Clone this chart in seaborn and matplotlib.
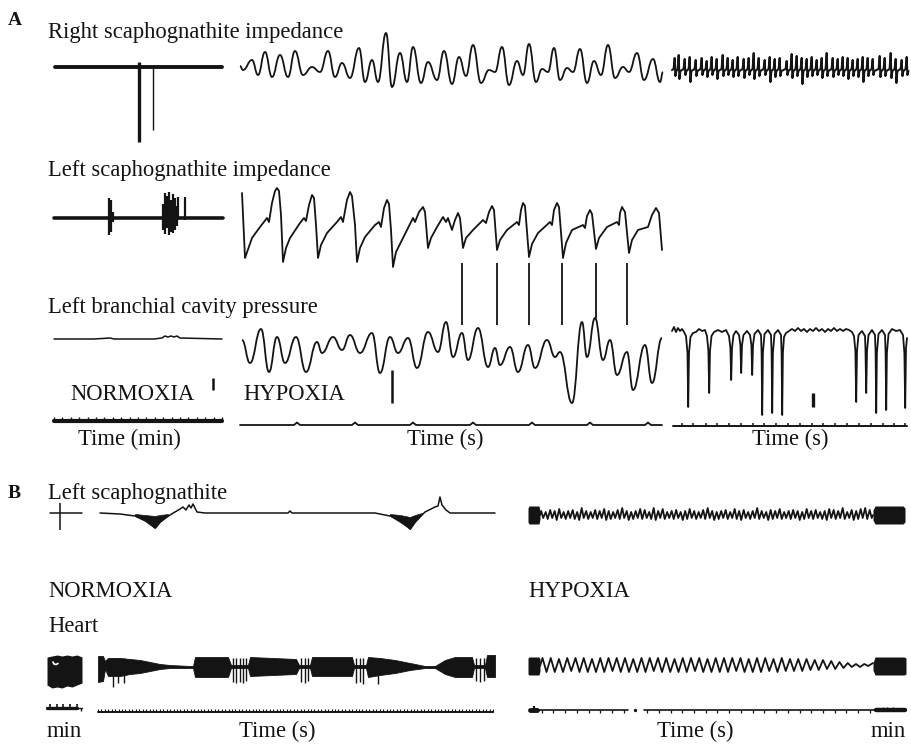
import numpy as np
import matplotlib
matplotlib.use('Agg')
import matplotlib.pyplot as plt
import seaborn as sns
from matplotlib.path import Path
from matplotlib.patches import PathPatch

sns.set_style('white')
plt.rcParams['font.family'] = ['Liberation Serif', 'DejaVu Serif']

INK = '#141414'
W, H = 912, 744

# ---------------- data (t = time along trace, a = deflection, up positive) ----------------
# A, right scaphognathite impedance, normoxia: flat trace with two downward spikes
a_nor_r_spike_t = [84, 98]
a_nor_r_spike_depth = [-75, -63]

# A, right scaphognathite impedance, hypoxia: extrema of the slow wave
a_hyp_r_t = [0, 3, 12, 18, 25, 32, 40, 48, 55, 63, 72, 80, 88, 95, 102, 110, 119, 125, 132, 138, 146,
             152, 160, 167, 173, 181, 188, 197, 204, 212, 219, 226, 233, 241, 249, 255, 262, 269, 277,
             283, 289, 296, 302, 308, 314, 320, 327, 333, 340, 347, 354, 361, 368, 375, 383, 389, 397,
             404, 413, 420, 423]
a_hyp_r_a = [2, -2, 8, -7, 16, -9, 13, -9, 17, -7, 1, -4, 17, -9, 5, -10, 20, -14, 8, -14, 35,
             -19, 15, -14, 21, -15, 6, -12, 17, -16, 11, -8, 23, -15, -2, -4, 21, -17, 7,
             -7, 24, -14, -1, -4, 20, -12, 0, -4, 19, -15, 7, -7, 23, -10, 1, -4, 15,
             -12, 9, -14, -4]

# A, right scaphognathite impedance, late hypoxia: fast beats
a_fast_t = [3, 7, 13, 18, 24, 30, 35, 40, 45, 51, 56, 61, 66, 72, 77, 82, 87, 93, 98, 103, 108, 115,
            120, 125, 130, 135, 140, 145, 150, 155, 161, 166, 171, 176, 181, 186, 191, 196, 201, 208,
            213, 219, 224, 230, 235]
a_fast_up = [12, 15, 11, 13, 10, 12, 9, 13, 11, 15, 12, 10, 13, 11, 12, 17, 12, 10, 13, 11, 12, 9,
             16, 14, 12, 11, 13, 10, 12, 17, 12, 11, 13, 12, 10, 11, 13, 12, 11, 14, 12, 17, 11, 10, 13]
a_fast_dn = [-6, -9, -5, -12, -6, -5, -7, -5, -9, -6, -5, -7, -6, -8, -5, -9, -6, -5, -12, -7, -6, -5,
             -8, -6, -14, -7, -6, -5, -8, -6, -7, -5, -6, -9, -6, -7, -12, -6, -5, -7, -6, -8, -13, -6, -5]

# A, left scaphognathite impedance, normoxia: two bursts
a_nor_l_burst_t = [55, 57, 59, 109, 111, 113, 115, 117, 119, 121, 123, 124, 131]
a_nor_l_burst_up = [20, 18, 6, 14, 25, 22, 26, 18, 24, 20, 12, 21, 21]
a_nor_l_burst_dn = [-17, -14, -4, -12, -16, -10, -17, -14, -15, -12, -8, -2, -2]

# A, left scaphognathite impedance, hypoxia
a_hyp_l_t = [2, 5, 12, 20, 27, 29, 32, 35, 37, 39, 41, 43, 46, 50, 60, 64, 66, 69, 72, 74, 76, 78,
             81, 87, 97, 101, 103, 107, 110, 112, 115, 117, 120, 125, 135, 139, 141, 144, 147, 149, 151, 153,
             156, 162, 173, 175, 179, 183, 185, 188, 191, 197, 203, 206, 208, 212, 215, 218, 220, 223,
             226, 233, 243, 246, 249, 252, 254, 257, 260, 267, 277, 279, 281, 283, 285, 289,
             292, 298, 310, 312, 314, 317, 319, 323, 326, 332, 343, 345, 347, 350, 352, 356,
             359, 367, 377, 379, 380, 382, 385, 389, 392, 398, 408, 412, 416, 419, 422]
a_hyp_l_a = [37, -28, -8, 3, 12, 8, 27, 39, 42, 39, 15, -32, -18, -8, 7, 12, 9, 25, 35, 32, 5, -28,
             -15, -3, 8, 13, 8, 30, 38, 34, 5, -32, -18, -7, 5, 8, 3, 22, 30, 26, 0, -37,
             -22, -10, 12, 8, 18, 23, 18, -18, -8, 3, 13, 8, 12, 0, 10, 17, 12, -18,
             -8, 0, 10, 7, 18, 24, 20, -20, -10, 0, 8, 5, 20, 27, 24, -27,
             -14, -3, 8, 5, 20, 27, 23, -28, -13, 0, 5, 2, 14, 20, 16, -19,
             -8, 3, 8, 5, 17, 23, 18, -23, -10, 0, 3, 15, 22, 17, -20]
# event markers between left scaphognathite and pressure traces
a_marker_t = [222, 257, 289, 322, 356, 387]
a_marker_low = [25, 25, 25, 25, 32, 25]

# A, left branchial cavity pressure
a_nor_p_t = [0, 40, 56, 60, 100, 108, 111, 114, 117, 120, 123, 126, 168]
a_nor_p_a = [0, 0, 1, 0, 0, 1, 3, 2, 3, 2, 3, 1, 0]
a_hyp_p_t = [2, 10, 21, 29, 37, 45, 56, 66, 77, 82, 93, 102, 110, 120, 132, 140, 150, 158, 168, 177,
             188, 198, 206, 213, 222, 228, 238, 248, 255, 260, 270, 278, 288, 295, 307, 315, 320, 332,
             342, 347, 355, 363, 370, 377, 387, 393, 405, 412, 422]
a_hyp_p_a = [10, -13, 21, -22, 13, -13, 13, -22, 8, -3, 13, 0, 15, -3, 17, -23, 13, -3, 12, -18,
             18, -2, 28, -7, 17, -10, 22, -17, 2, -15, 3, -22, 5, -18, 10, -7, -2, -53,
             28, -7, 32, -10, 10, -25, -2, -40, 5, -33, 12]
a_late_p_t = [0, 2, 4, 6, 8, 10, 12, 14, 15.5, 16.2, 17, 18.5, 21, 24, 27, 30, 33, 35, 36.4, 37.2, 38,
              39.5, 42, 46, 50, 54, 57, 58.4, 59.2, 60, 61.5, 64, 67, 68.4, 69.2, 70, 71.5, 75, 78,
              79.4, 80.2, 81, 82.5, 86, 89, 89.6, 90.2, 90.9, 92.5, 96, 99, 99.6, 100.2, 100.9, 102.5,
              106, 109, 109.6, 110.2, 110.9, 112, 114, 117, 120, 123, 126, 129, 132, 135, 138, 141,
              144, 147, 150, 153, 156, 159, 162, 165, 168, 171, 174, 177, 180, 182, 183.4, 184.2, 185,
              186.5, 190, 193, 193.5, 194.2, 195, 196.5, 200, 203, 203.6, 204.2, 204.9, 206.5, 210,
              213, 213.6, 214.2, 214.9, 216.5, 220, 224, 228, 231, 232.4, 233.2, 234, 235]
a_late_p_a = [2, 6, 1, 5, 2, 4, 1, -3, -20, -74, -20, -4, 0, 1, 4, 2, 3, -3, -18, -60, -18,
              -3, 1, 3, 1, 3, -3, -15, -47, -15, -2, 2, -2, -12, -40, -12, -2, 2, -2,
              -12, -42, -12, -1, 3, -2, -20, -82, -20, -1, 3, -2, -20, -80, -20, -1,
              3, -2, -20, -82, -20, -4, 0, 2, 4, 2, 5, 2, 4, 1, 4, 2,
              5, 2, 4, 1, 4, 2, 5, 2, 4, 2, 4, 3, 1, -3, -18, -69, -18,
              -2, 2, -3, -18, -60, -18, -2, 3, -2, -20, -80, -20, -1, 3,
              -2, -20, -77, -20, -1, 4, 2, 3, -2, -20, -75, -15, -5]

# A, time bases
a_minutes = list(range(21))
a_hyp_marks = [57, 115, 173, 233, 292, 350, 408]
a_late_secs = [9, 20, 33, 44, 56, 68, 80, 91, 103, 115, 127, 139, 150, 162, 174, 186, 198, 210, 221, 232]

# B, left scaphognathite, normoxia
b_nor_s_t = [0, 20, 35, 45, 55, 60, 70, 80, 83, 86, 89, 91, 93, 97, 105, 188, 190, 192, 275, 295,
             305, 310, 315, 325, 335, 338, 340, 342, 346, 350, 395]
b_nor_s_a = [0, -1, -3, -7, -15, -9, -2, 4, 6, 3, 8, 5, 9, 1, 0, 0, 2, 0, 0, -4,
             -10, -16, -9, 1, 6, 7, 16, 8, 3, 0, 0]
b_dip_t = [[35, 45, 55, 60, 68], [290, 300, 310, 315, 322]]
b_dip_low = [[-3, -8, -15, -9, -2], [-3, -9, -16, -9, -1]]
b_dip_high = [[-1, -2, -3, -2, -1], [-1, -2, -4, -2, 0]]

# B, left scaphognathite, hypoxia: fast beating, one value per beat
b_hyp_s_up = [4, 3, 5, 4, 6, 3, 4, 5, 3, 7, 4, 3, 5, 4, 6, 4, 3, 5, 7, 4, 3, 4, 6, 5, 3, 7, 4, 6, 3, 4,
              5, 3, 4, 6, 4, 3, 5, 7, 4, 3, 4, 5, 3, 6, 4, 5, 3, 4, 7, 4, 3, 5, 4, 6, 3, 4, 5, 4, 3, 6,
              4, 5, 3, 4, 6, 5, 4, 7, 3, 5, 4, 6, 7, 5]
b_hyp_s_dn = [-3, -4, -3, -5, -3, -4, -3, -4, -5, -3, -4, -3, -4, -3, -5, -4, -3, -4, -3, -5, -4, -3,
              -4, -3, -4, -5, -3, -4, -3, -4, -3, -5, -4, -3, -4, -3, -4, -3, -5, -4, -3, -4, -3, -4,
              -5, -3, -4, -3, -4, -3, -5, -4, -3, -4, -3, -4, -3, -5, -4, -3, -4, -3, -4, -5, -3, -4,
              -3, -4, -3, -5, -4, -3, -4, -3]

# B, heart, normoxia: envelope of the fast heart trace
b_heart_blk_t = [0, 5, 10, 15, 20, 25, 30, 35]
b_heart_blk_up = [14, 15, 16, 15, 16, 15, 16, 14]
b_heart_blk_dn = [-14, -17, -16, -17, -15, -16, -14, -12]
b_heart_n_t = [0, 5, 7, 10, 22, 32, 42, 52, 62, 72, 92, 95, 97, 130, 133, 150, 152, 198, 201, 212,
               214, 254, 256, 268, 270, 282, 297, 312, 327, 337, 347, 357, 374, 376, 387, 389, 397]
b_heart_n_up = [11, 11, 6, 9, 9, 8, 7, 5, 3, 2, 1, 1, 10, 10, 2, 2, 10, 8, 2, 2,
                10, 10, 2, 2, 10, 9, 7, 4, 1, 1, 7, 10, 10, 2, 2, 12, 12]
b_heart_n_dn = [-15, -14, -2, -9, -9, -7, -6, -4, -2, -1, -1, -1, -10, -10, -1, -1, -9, -7, -1, -1,
                -9, -9, -1, -1, -10, -8, -6, -3, -1, -1, -7, -10, -10, -1, -1, -10, -10]
b_heart_sp_t = [15, 20, 26, 135, 138, 142, 145, 148, 203, 207, 210, 258, 262, 265, 280, 378, 382, 386]
b_heart_sp_dn = [-20, -16, -16, -15, -16, -15, -16, -14, -15, -16, -14, -16, -15, -17, -17, -14, -15, -14]

# B, heart, hypoxia: one value per beat
b_heart_h_up = [8, 8, 7, 8, 8, 8, 7, 8, 8, 8, 8, 7, 8, 8, 8, 8, 7, 8, 8, 8, 7, 8, 8, 8, 8, 7, 8, 8, 7, 8,
                7, 7, 7, 6, 6, 5, 4, 3, 2, 2]
b_heart_h_dn = [-6, -6, -6, -5, -6, -6, -6, -6, -5, -6, -6, -6, -6, -5, -6, -6, -6, -6, -5, -6, -6, -6,
                -6, -5, -6, -6, -6, -5, -6, -5, -5, -5, -4, -4, -3, -3, -2, -1, -1, 0]

# B, time bases
b_min_marks = [3, 10, 16, 23, 30]
b_nor_secs = list(range(116))
b_hyp_secs = [s for s in range(1, 30) if s not in (9,)]

# ---------------- drawing ----------------
fig = plt.figure(figsize=(W / 100, H / 100), dpi=100)


def strip(left, width, base, up, down, xmax=None):
    ax = fig.add_axes([left / W, 1 - (base + down) / H, width / W, (up + down) / H])
    ax.set_xlim(0, width if xmax is None else xmax)
    ax.set_ylim(-down, up)
    ax.set_axis_off()
    return ax


def trace(ax, t, a, lw=1.1, color=INK):
    sns.lineplot(x=np.asarray(t, float), y=np.asarray(a, float), ax=ax, color=color, lw=lw,
                 sort=False, estimator=None, clip_on=False, solid_joinstyle='round')


def smooth(ax, t, a, lw=1.1, k=0.45):
    verts, codes = [(t[0], a[0])], [Path.MOVETO]
    for i in range(1, len(t)):
        d = (t[i] - t[i - 1]) * k
        verts += [(t[i - 1] + d, a[i - 1]), (t[i] - d, a[i]), (t[i], a[i])]
        codes += [Path.CURVE4] * 3
    ax.add_patch(PathPatch(Path(verts, codes), fill=False, lw=lw, ec=INK, clip_on=False,
                           joinstyle='round'))


def label(x, y, s, size=16.3, ha='left', weight='normal'):
    fig.text(x / W, 1 - y / H, s, fontsize=size, ha=ha, va='baseline', color=INK, fontweight=weight)


# ---- A row 1: right scaphognathite
ax = strip(55, 167, 67, 10, 80)
trace(ax, [0, 167], [0, 0], lw=2.8)
ax.vlines(a_nor_r_spike_t[0], 5, a_nor_r_spike_depth[0], color=INK, lw=2.4, clip_on=False)
ax.vlines(a_nor_r_spike_t[1], 0, a_nor_r_spike_depth[1], color=INK, lw=1.0, clip_on=False)

ax = strip(240, 423, 68, 40, 25)
smooth(ax, a_hyp_r_t, a_hyp_r_a, lw=1.3)

ax = strip(672, 235, 70, 20, 20)
ft, fa = [0], [0]
for t, u, d in zip(a_fast_t, a_fast_up, a_fast_dn):
    ft += [t - 1.4, t - 0.3, t + 0.4, t + 1.4]
    fa += [1, u, d, -1]
trace(ax, ft, fa, lw=1.5)

# ---- A row 2: left scaphognathite
ax = strip(54, 169, 218, 30, 20)
trace(ax, [0, 169], [0, 0], lw=2.6)
ax.vlines(a_nor_l_burst_t, a_nor_l_burst_dn, a_nor_l_burst_up, color=INK, lw=1.6, clip_on=False)

ax = strip(240, 423, 230, 50, 45)
trace(ax, a_hyp_l_t, a_hyp_l_a, lw=1.3)

# ---- A row 3: branchial cavity pressure
ax = strip(54, 168, 339, 10, 55)
trace(ax, a_nor_p_t, a_nor_p_a, lw=1.1)
ax.vlines(159, -39, -51, color=INK, lw=1.8, clip_on=False)

ax = strip(240, 423, 350, 90, 60)
smooth(ax, a_hyp_p_t, a_hyp_p_a, lw=1.3)
ax.vlines(a_marker_t, a_marker_low, 87, color=INK, lw=1.3, clip_on=False)
ax.vlines(152, -20, -53, color=INK, lw=1.8, clip_on=False)

ax = strip(672, 235, 333, 10, 85)
trace(ax, a_late_p_t, a_late_p_a, lw=1.3)
ax.vlines(141, -60, -74, color=INK, lw=2.4, clip_on=False)

# ---- A time bases
ax = strip(54, 168, 421, 6, 4, xmax=a_minutes[-1])
trace(ax, [0, a_minutes[-1]], [0, 0], lw=3.0)
ax.vlines(a_minutes, 0, 4.5, color=INK, lw=1.0, clip_on=False)

ax = strip(240, 422, 425, 6, 4)
bt, ba = [0], [0]
for m in a_hyp_marks:
    bt += [m - 3, m, m + 3]
    ba += [0, 2.5, 0]
bt.append(422)
ba.append(0)
trace(ax, bt, ba, lw=1.3)

ax = strip(673, 234, 426, 6, 4)
trace(ax, [0, 234], [0, 0], lw=1.4)
ax.vlines(a_late_secs, 0, 3.5, color=INK, lw=1.1, clip_on=False)

# ---- B row 1: left scaphognathite
ax = strip(50, 32, 513, 12, 18)
trace(ax, [0, 32], [0, 0], lw=1.1)
ax.vlines(10, 10, -17, color=INK, lw=1.1, clip_on=False)

ax = strip(100, 395, 513, 20, 20)
trace(ax, b_nor_s_t, b_nor_s_a, lw=1.1)
for dt, dl, dh in zip(b_dip_t, b_dip_low, b_dip_high):
    ax.fill_between(dt, dl, dh, color=INK, lw=0.5, clip_on=False)

ax = strip(528, 377, 515, 12, 12)
ax.fill_between([0, 1, 11, 12], [-7, -9, -9, -4], [7, 9, 9, 4], color=INK, lw=0, clip_on=False)
ax.fill_between([345, 347, 375, 377], [-5, -9, -9, -7], [5, 9, 9, 7], color=INK, lw=0, clip_on=False)
beat_t = 12 + 4.5 * np.arange(len(b_hyp_s_up))
st, sa = [12], [0]
for t, u, d in zip(beat_t, b_hyp_s_up, b_hyp_s_dn):
    st += [t + 1.2, t + 3.2]
    sa += [u, d]
st.append(345)
sa.append(0)
trace(ax, st, sa, lw=1.3)

# ---- B row 2: heart
ax = strip(47, 35, 671, 18, 18)
ax.fill_between(b_heart_blk_t, b_heart_blk_dn, b_heart_blk_up, color=INK, lw=0, clip_on=False)
trace(ax, [6, 7, 9, 11], [9, 7, 6.5, 7.5], lw=1.2, color='white')

ax = strip(98, 397, 667, 15, 22)
ax.fill_between(b_heart_n_t, b_heart_n_dn, b_heart_n_up, color=INK, lw=0.6, clip_on=False)
ax.vlines(b_heart_sp_t, b_heart_sp_dn, 9, color=INK, lw=1.0, clip_on=False)

ax = strip(528, 378, 666, 12, 12)
ax.fill_between([0, 1, 11, 12], [-8, -9, -9, -5], [8, 9, 9, 7], color=INK, lw=0, clip_on=False)
ax.fill_between([345, 347, 376, 378], [-4, -9, -9, -8], [3, 9, 9, 8], color=INK, lw=0, clip_on=False)
hbeat_t = 12 + 8.25 * np.arange(len(b_heart_h_up))
ht, ha_ = [12], [0]
for t, u, d in zip(hbeat_t, b_heart_h_up, b_heart_h_dn):
    ht += [t + 2.5, t + 6.5]
    ha_ += [u, d]
ht.append(345)
ha_.append(3)
trace(ax, ht, ha_, lw=1.3)

# ---- B time bases
ax = strip(47, 35, 708, 6, 5)
trace(ax, [0, 30], [0, 0], lw=2.4)
trace(ax, [30, 35], [0, 0], lw=1.0)
ax.vlines(b_min_marks, 0, 4, color=INK, lw=1.2, clip_on=False)
ax.vlines(34, 0, -3, color=INK, lw=1.0, clip_on=False)

ax = strip(98, 395, 712, 5, 3, xmax=b_nor_secs[-1])
trace(ax, [0, b_nor_secs[-1]], [0, 0], lw=1.4)
ax.vlines(b_nor_secs, 0, 3, color=INK, lw=0.8, clip_on=False)

ax = strip(530, 375, 710, 6, 5, xmax=32)
trace(ax, [0, 8.4], [0, 0], lw=1.2)
trace(ax, [9.7, 29.5], [0, 0], lw=1.2)
trace(ax, [29.5, 32], [0, 0], lw=3.2)
trace(ax, [0, 0.6], [0, 0], lw=3.5)
ax.vlines(0.3, 0, 4, color=INK, lw=1.6, clip_on=False)
ax.vlines(b_hyp_secs, 0, -2.5, color=INK, lw=0.9, clip_on=False)
ax.vlines([30.1, 30.5, 31.0], 0, 3.5, color=INK, lw=0.9, clip_on=False)
ax.scatter([8.95], [0], s=2, color=INK, clip_on=False)

# ---------------- text ----------------
label(8, 25, 'A', size=14, weight='bold')
label(48, 38, 'Right scaphognathite impedance')
label(48, 176, 'Left scaphognathite impedance')
label(48, 313, 'Left branchial cavity pressure')
label(70, 400, 'NORMOXIA')
label(243, 400, 'HYPOXIA')
label(129, 445, 'Time (min)', ha='center')
label(445, 445, 'Time (s)', ha='center')
label(790, 445, 'Time (s)', ha='center')

label(8, 498, 'B', size=14, weight='bold')
label(48, 499, 'Left scaphognathite')
label(48, 597, 'NORMOXIA')
label(528, 597, 'HYPOXIA')
label(48, 632, 'Heart')
label(47, 737, 'min')
label(277, 737, 'Time (s)', ha='center')
label(695, 737, 'Time (s)', ha='center')
label(906, 737, 'min', ha='right')

fig.savefig('out.png', dpi=100, facecolor='white')
